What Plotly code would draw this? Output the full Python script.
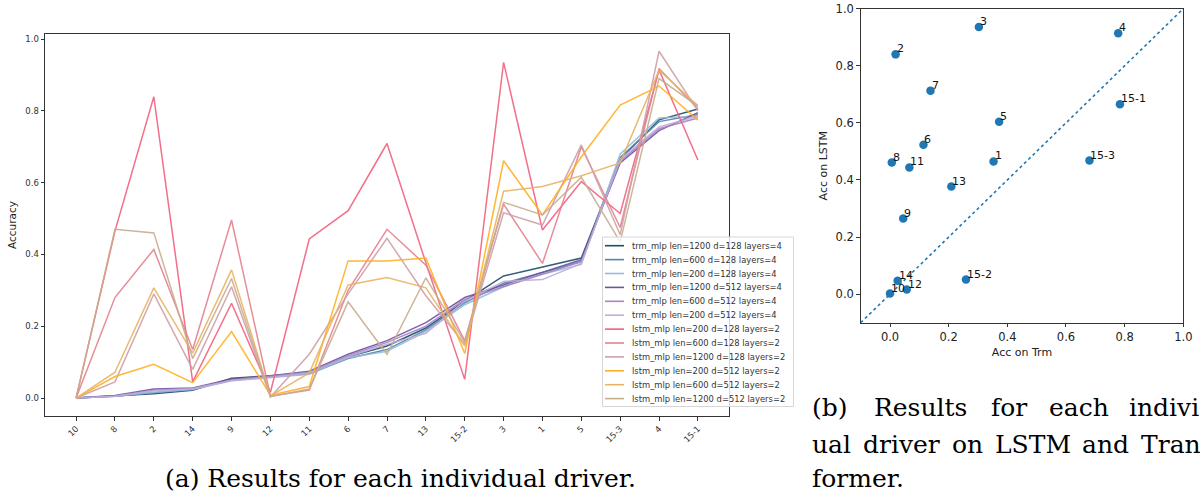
import plotly.graph_objects as go

W, H = 1200, 495

# ---------------- data: left chart ----------------
drivers = ["10", "8", "2", "14", "9", "12", "11", "6", "7", "13",
           "15-2", "3", "1", "5", "15-3", "4", "15-1"]

series_names = [
    "trm_mlp len=1200 d=128 layers=4",
    "trm_mlp len=600 d=128 layers=4",
    "trm_mlp len=200 d=128 layers=4",
    "trm_mlp len=1200 d=512 layers=4",
    "trm_mlp len=600 d=512 layers=4",
    "trm_mlp len=200 d=512 layers=4",
    "lstm_mlp len=200 d=128 layers=2",
    "lstm_mlp len=600 d=128 layers=2",
    "lstm_mlp len=1200 d=128 layers=2",
    "lstm_mlp len=200 d=512 layers=2",
    "lstm_mlp len=600 d=512 layers=2",
    "lstm_mlp len=1200 d=512 layers=2",
]

trm_1200_128 = [0, 0.006, 0.012, 0.022, 0.055, 0.062, 0.070, 0.115, 0.145, 0.195, 0.270, 0.340, 0.365, 0.390, 0.665, 0.775, 0.805]
trm_600_128  = [0, 0.005, 0.015, 0.025, 0.050, 0.060, 0.068, 0.110, 0.135, 0.190, 0.265, 0.320, 0.350, 0.380, 0.670, 0.770, 0.790]
trm_200_128  = [0, 0.005, 0.016, 0.024, 0.048, 0.058, 0.066, 0.112, 0.130, 0.185, 0.260, 0.310, 0.345, 0.372, 0.680, 0.780, 0.785]
trm_1200_512 = [0, 0.007, 0.025, 0.028, 0.053, 0.062, 0.075, 0.122, 0.160, 0.210, 0.280, 0.315, 0.350, 0.385, 0.655, 0.745, 0.795]
trm_600_512  = [0, 0.006, 0.022, 0.027, 0.050, 0.060, 0.072, 0.118, 0.155, 0.200, 0.275, 0.310, 0.345, 0.380, 0.660, 0.750, 0.780]
trm_200_512  = [0, 0.005, 0.020, 0.026, 0.049, 0.058, 0.070, 0.115, 0.150, 0.180, 0.270, 0.325, 0.330, 0.375, 0.665, 0.755, 0.785]
lstm_200_128  = [0, 0.465, 0.839, 0.045, 0.264, 0.016, 0.443, 0.522, 0.709, 0.377, 0.052, 0.935, 0.468, 0.603, 0.514, 0.914, 0.663]
lstm_600_128  = [0, 0.280, 0.414, 0.135, 0.496, 0.005, 0.022, 0.300, 0.470, 0.370, 0.160, 0.540, 0.375, 0.700, 0.475, 0.918, 0.806]
lstm_1200_128 = [0, 0.045, 0.290, 0.080, 0.310, 0.003, 0.122, 0.290, 0.445, 0.285, 0.150, 0.516, 0.482, 0.705, 0.455, 0.966, 0.800]
lstm_200_512  = [0, 0.060, 0.094, 0.043, 0.185, 0.008, 0.032, 0.382, 0.382, 0.390, 0.124, 0.661, 0.510, 0.672, 0.816, 0.869, 0.774]
lstm_600_512  = [0, 0.072, 0.307, 0.125, 0.357, 0.006, 0.070, 0.315, 0.336, 0.307, 0.145, 0.576, 0.589, 0.619, 0.655, 0.913, 0.815]
lstm_1200_512 = [0, 0.470, 0.460, 0.110, 0.333, 0.004, 0.025, 0.268, 0.122, 0.335, 0.155, 0.545, 0.510, 0.615, 0.435, 0.890, 0.813]

series_values = [trm_1200_128, trm_600_128, trm_200_128, trm_1200_512, trm_600_512, trm_200_512,
                 lstm_200_128, lstm_600_128, lstm_1200_128, lstm_200_512, lstm_600_512, lstm_1200_512]

series_colors = ["#1b4e6b", "#4f86ab", "#92bcdc", "#7052a3", "#a585c7", "#c3acd6",
                 "#f2607e", "#e4818f", "#cfa0a8", "#ffb020", "#e8b464", "#c9ad8f"]

y_ticks = [0.0, 0.2, 0.4, 0.6, 0.8, 1.0]

# ---------------- data: right chart ----------------
scatter_labels = ["3", "4", "2", "7", "15-1", "5", "6", "1", "15-3", "8", "11", "13", "9", "14", "15-2", "12", "10"]
acc_trm  = [0.303, 0.778, 0.019, 0.138, 0.784, 0.372, 0.114, 0.353, 0.680, 0.006, 0.066, 0.209, 0.045, 0.026, 0.259, 0.057, 0.000]
acc_lstm = [0.936, 0.914, 0.840, 0.713, 0.665, 0.604, 0.523, 0.465, 0.468, 0.461, 0.444, 0.377, 0.265, 0.047, 0.051, 0.016, 0.002]
diag = [-0.1, 1.0]
sq_ticks = [0.0, 0.2, 0.4, 0.6, 0.8, 1.0]


def px(x):
    return x / W


def py(y):
    return 1 - y / H


fig = go.Figure()

for name, vals, col in zip(series_names, series_values, series_colors):
    fig.add_trace(go.Scatter(x=drivers, y=vals, mode="lines", name=name,
                             line=dict(color=col, width=1.5), opacity=0.9,
                             xaxis="x", yaxis="y", showlegend=False))

fig.add_trace(go.Scatter(x=diag, y=diag, mode="lines",
                         line=dict(color="#1f77b4", width=1.6, dash="dot"),
                         xaxis="x2", yaxis="y2", showlegend=False))
fig.add_trace(go.Scatter(x=acc_trm, y=acc_lstm, mode="markers",
                         marker=dict(color="#1f77b4", size=8.5),
                         xaxis="x2", yaxis="y2", showlegend=False))

annotations = []
for lab, xv, yv in zip(scatter_labels, acc_trm, acc_lstm):
    annotations.append(dict(x=xv, y=yv, xref="x2", yref="y2", text=lab, showarrow=False,
                            xanchor="left", yanchor="bottom", yshift=-3, xshift=-1,
                            font=dict(family="DejaVu Sans", size=11, color="#111")))

# manual legend (matplotlib style, compact rows)
shapes = [dict(type="rect", xref="paper", yref="paper",
               x0=px(602.5), x1=px(793.5), y0=py(406.5), y1=py(237),
               fillcolor="rgba(255,255,255,0.8)", line=dict(color="#d6d6d6", width=1),
               layer="above")]
for k, (name, col) in enumerate(zip(series_names, series_colors)):
    yy = 245.7 + k * 13.9
    shapes.append(dict(type="line", xref="paper", yref="paper",
                       x0=px(605), x1=px(624), y0=py(yy), y1=py(yy),
                       line=dict(color=col, width=1.6), layer="above"))
    annotations.append(dict(x=px(630), y=py(yy), xref="paper", yref="paper", text=name,
                            showarrow=False, xanchor="left", yanchor="middle",
                            font=dict(family="DejaVu Sans", size=8.4, color="#333")))

serif = "DejaVu Serif"
cap_size = 25
annotations.append(dict(x=px(400), y=py(478), xref="paper", yref="paper",
                        text="(a) Results for each individual driver.", showarrow=False,
                        xanchor="center", yanchor="middle",
                        font=dict(family=serif, size=cap_size, color="#000")))
line1 = [("(b)", 810), ("Results", 872), ("for", 989), ("each", 1047), ("indivi", 1127)]
line2 = [("ual", 810), ("driver", 861), ("on", 950), ("LSTM", 993), ("and", 1080), ("Tran", 1139)]
line3 = [("former.", 810)]
for words, yc in ((line1, 407), (line2, 444), (line3, 478)):
    for w, xl in words:
        annotations.append(dict(x=px(xl), y=py(yc), xref="paper", yref="paper", text=w,
                                showarrow=False, xanchor="left", yanchor="middle",
                                font=dict(family=serif, size=cap_size, color="#000")))

axis_common = dict(showline=True, mirror=True, linecolor="#333", linewidth=1,
                   ticks="outside", ticklen=3.5, tickcolor="#333", tickwidth=1,
                   showgrid=False, zeroline=False, automargin=False)

fig.update_layout(
    width=W, height=H,
    margin=dict(l=0, r=0, t=0, b=0, autoexpand=False),
    paper_bgcolor="white", plot_bgcolor="white",
    font=dict(family="DejaVu Sans", color="#333"),
    showlegend=False,
    xaxis=dict(domain=[px(45), px(729)], range=[-0.8, 16.8], type="category",
               categoryorder="array", categoryarray=drivers,
               tickangle=-45, tickfont=dict(size=8.5, color="#333"), anchor="y", **axis_common),
    yaxis=dict(domain=[py(416), py(34)], range=[-0.05, 1.014], tickvals=y_ticks,
               ticktext=[f"{v:.1f}" for v in y_ticks], tickfont=dict(size=8.5, color="#333"),
               title=dict(text="Accuracy", font=dict(size=10.5, color="#222"), standoff=6),
               anchor="x", **axis_common),
    xaxis2=dict(domain=[px(860.7), px(1183.3)], range=[-0.1, 1.0], tickvals=sq_ticks,
                ticktext=[f"{v:.1f}" for v in sq_ticks], tickfont=dict(size=11.5, color="#222"),
                title=dict(text="Acc on Trm", font=dict(size=11, color="#222"), standoff=5),
                anchor="y2", **axis_common),
    yaxis2=dict(domain=[py(322.7), py(8.7)], range=[-0.1, 1.0], tickvals=sq_ticks,
                ticktext=[f"{v:.1f}" for v in sq_ticks], tickfont=dict(size=11.5, color="#222"),
                title=dict(text="Acc on LSTM", font=dict(size=11, color="#222"), standoff=5),
                anchor="x2", **axis_common),
    shapes=shapes,
    annotations=annotations,
)

fig.write_html("out.html")
